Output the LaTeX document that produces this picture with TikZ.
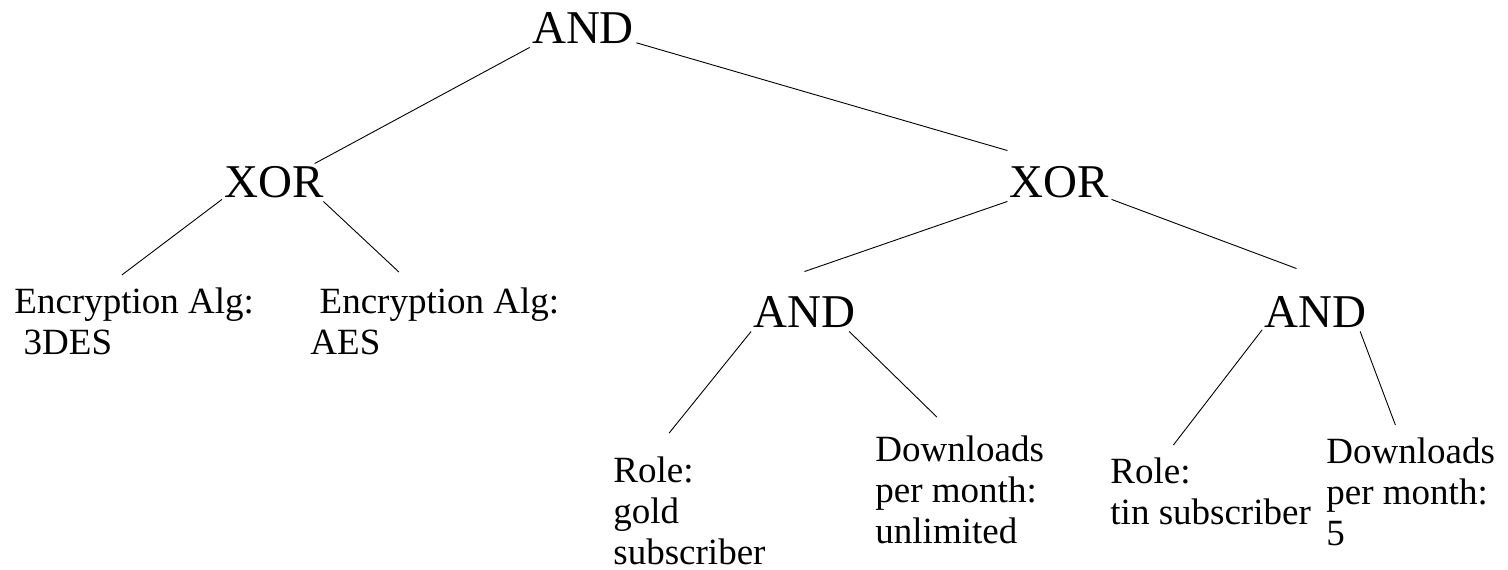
\documentclass[tikz,border=0pt]{standalone}
\usepackage{fontspec}
\setmainfont{Liberation Serif}

\begin{document}
\begin{tikzpicture}[x=1pt,y=1pt,line width=0.9pt,
    op/.style={anchor=base,font=\fontsize{47}{50}\selectfont,
      inner xsep=2pt,inner ysep=3pt,text height=31pt,text depth=0pt},
    leaf/.style={anchor=north west,align=left,font=\fontsize{37}{41}\selectfont,
      inner xsep=2pt,inner ysep=12pt}]
    \useasboundingbox (0,0) rectangle (1508,570);

    \node[op]   (and_0)  at (583,526)    {AND};
    \node[op]   (xor_1)  at (274,372)    {XOR};
    \node[op]   (xor_2)  at (1059.5,372) {XOR};
    \node[op]   (and_1)  at (804.5,242)  {AND};
    \node[op]   (and_2)  at (1315.5,242) {AND};

    \node[leaf] (enc_1)  at (12,295)     {Encryption Alg:\\\ 3DES};
    \node[leaf] (enc_2)  at (308,295)    {\ Encryption Alg:\\AES};
    \node[leaf] (role_1) at (611,126)    {Role:\\gold\\subscriber};
    \node[leaf] (dl_1)   at (873,147)    {Downloads\\per month:\\unlimited};
    \node[leaf] (role_2) at (1108,125)   {Role:\\tin subscriber};
    \node[leaf] (dl_2)   at (1324,145)   {Downloads\\per month:\\5};

    \path (and_0.south west) edge (xor_1.25)
          (and_0.-15)        edge ([yshift=13pt]xor_2.north west)
          (xor_1.198)        edge (enc_1.105)
          (xor_1.-21)        edge ([yshift=3pt]enc_2.128)
          (xor_2.south west) edge ([yshift=22pt]and_1.north)
          (xor_2.-18)        edge ([yshift=25pt]and_2.135)
          (and_1.south west) edge ([yshift=11pt]role_1.107)
          (and_1.-23)        edge ([yshift=6pt]dl_1.109)
          (and_2.198)        edge (role_2.129)
          (and_2.-23)        edge (dl_2.103);
\end{tikzpicture}
\end{document}
